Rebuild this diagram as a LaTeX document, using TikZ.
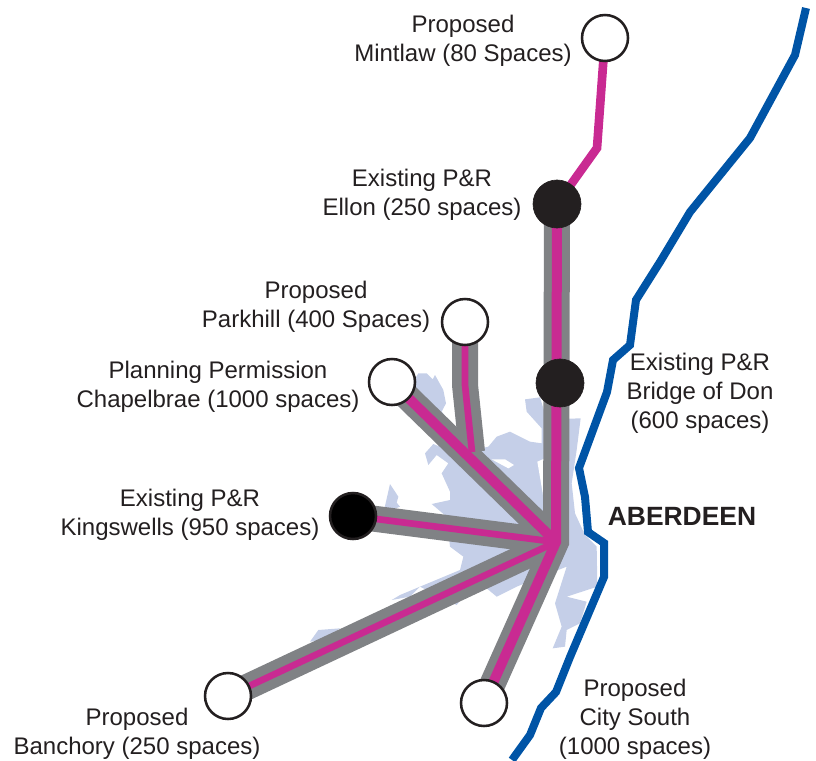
\documentclass[tikz,border=0pt]{standalone}
\usepackage{fontspec}
\setmainfont{Liberation Sans}
\usetikzlibrary{backgrounds}
\definecolor{landblue}{HTML}{C5CFE8}
\definecolor{roadgray}{HTML}{808285}
\definecolor{roadpink}{HTML}{C92A92}
\definecolor{coastblue}{HTML}{0054A6}
\definecolor{nearblack}{HTML}{231F20}
\tikzset{
  x=0.75pt,y=-0.75pt,
  newsite/.style={circle,draw=nearblack,line width=1.9pt,fill=white,minimum size=34.5pt,inner sep=0pt},
  oldsite/.style={circle,draw=nearblack,line width=0.5pt,fill=nearblack,minimum size=36pt,inner sep=0pt},
  label/.style={align=center,font=\fontsize{18pt}{21.7pt}\selectfont,text=nearblack,inner sep=0pt},
  grayroad/.style={draw=roadgray,line width=19.5pt,line join=miter,miter limit=20},
  pinkroad/.style={draw=roadpink,line width=5pt,line join=miter,miter limit=20},
  land/.style={fill=landblue,draw=none},
}
\begin{document}
\begin{tikzpicture}
\useasboundingbox (0,0) rectangle (816,760);
% sites
\node[newsite] (mintlaw) at (605,38) {};
\node[oldsite] (ellon) at (557,204) {};
\node[newsite] (parkhill) at (465,322) {};
\node[oldsite] (bridge) at (560,383) {};
\node[newsite] (chapel) at (392,382) {};
\node[newsite,fill=black] (kings) at (353,516) {};
\node[newsite] (banchory) at (228,696) {};
\node[newsite] (south) at (484,703) {};
\coordinate (hub) at (556,542);
\coordinate (mbend) at (597,148);
\coordinate (pbend) at (465,385);
\coordinate (pjoin) at (472,452);
\begin{scope}[on background layer]
  \begin{scope}[shift={(300,340)},x=0.25pt,y=-0.25pt]
    \fill[land] (355,100) -- (380,100) -- (398,118) -- (405,105) -- (430,150) -- (438,190) -- (425,215) -- (520,330)
      -- (565,320) -- (590,290) -- (630,275) -- (690,305) -- (725,310) -- (725,265) -- (680,215) -- (675,178) -- (720,172)
      -- (740,238) -- (842,235) -- (830,330) -- (815,430) -- (825,520) -- (855,585) -- (890,620) -- (892,740) -- (800,770)
      -- (860,785) -- (840,850) -- (800,870) -- (795,920) -- (758,925) -- (785,860) -- (765,790) -- (800,680) -- (700,720)
      -- (650,740) -- (590,770) -- (560,745) -- (490,770) -- (470,795) -- (360,740) -- (330,770) -- (275,780) -- (300,765)
      -- (480,690) -- (490,650) -- (450,620) -- (440,530) -- (395,492) -- (450,480) -- (450,455) -- (425,400) -- (445,370)
      -- (410,345) -- (385,375) -- (375,340) -- (400,312) -- (420,320) -- (300,190) -- cycle;
    \fill[land] (270,432) -- (295,470) -- (290,488) -- (300,500) -- (250,520) -- cycle;
    \fill[land] (30,905) -- (55,870) -- (120,865) -- (70,900) -- cycle;
    \fill[white] (575,358) -- (615,358) -- (642,375) -- (625,385) -- cycle;
    \fill[white] (712,365) -- (735,355) -- (735,500) -- cycle;
  \end{scope}
  \draw[grayroad] (ellon.center) -- (hub) -- (south.center);
  \draw[grayroad] (chapel.center) -- (hub);
  \draw[grayroad] (kings.center) -- (hub);
  \draw[grayroad] (banchory.center) -- (hub);
  \draw[grayroad] (parkhill.center) -- (pbend) -- (pjoin);
  \draw[pinkroad,line width=6.5pt] (mintlaw.center) -- (mbend) -- (ellon.center);
  \draw[pinkroad,line width=7.5pt] (ellon.center) -- (hub) -- (south.center);
  \draw[pinkroad,line width=7.5pt] (chapel.center) -- (hub);
  \draw[pinkroad] (kings.center) -- (hub);
  \draw[pinkroad] (banchory.center) -- (hub);
  \draw[pinkroad] (parkhill.center) -- (pbend) -- (pjoin);
\end{scope}
% coast
\draw[coastblue,line width=6pt,line join=miter] (806,8) -- (795,55) -- (750,138) -- (690,212) -- (660,262) -- (636,300)
  -- (630,345) -- (613,360) -- (607,392) -- (579,468) -- (585,497) -- (588,532) -- (604,543) -- (604,577) -- (570,657)
  -- (556,692) -- (541,708) -- (530,735) -- (512,760);
% labels
\node[label] (t1) at (463,41) {Proposed\\Mintlaw (80 Spaces)};
\node[label] (t2) at (422,195) {Existing P\&R\\Ellon (250 spaces)};
\node[label] (t3) at (316,307) {Proposed\\Parkhill (400 Spaces)};
\node[label] (t4) at (218,387) {Planning Permission\\Chapelbrae (1000 spaces)};
\node[label] (t5) at (190,515) {Existing P\&R\\Kingswells (950 spaces)};
\node[label] (t6) at (137,734) {Proposed\\Banchory (250 spaces)};
\node[label] (t7) at (635,719) {Proposed\\City South\\(1000 spaces)};
\node[label] (t8) at (700,393) {Existing P\&R\\Bridge of Don\\(600 spaces)};
\node[label,font=\fontsize{19.8pt}{22pt}\selectfont\bfseries] (t9) at (682,516) {ABERDEEN};
\end{tikzpicture}
\end{document}
